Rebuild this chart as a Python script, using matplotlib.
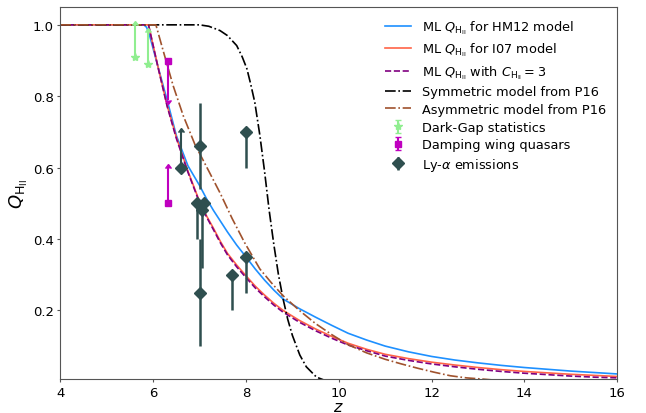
import matplotlib
matplotlib.use("Agg")
import matplotlib.pyplot as plt

# ML reionization histories
z_hm12 = [4.0, 5.80, 5.86, 5.92, 6.1, 6.3, 6.5, 6.75, 7.0, 7.15, 7.3, 7.45, 7.6, 7.8,
          8.0, 8.2, 8.4, 8.6, 8.8, 9.15, 9.5, 9.85, 10.2, 10.6, 11.0, 11.5, 12.0,
          12.5, 13.0, 13.5, 14.0, 14.5, 15.0, 15.5, 16.0]
q_hm12 = [1.0, 1.0, 0.993, 0.972, 0.885, 0.79, 0.69, 0.605, 0.55, 0.513, 0.48, 0.45,
          0.42, 0.383, 0.35, 0.316, 0.285, 0.257, 0.232, 0.205, 0.181, 0.158, 0.136,
          0.117, 0.10, 0.084, 0.071, 0.061, 0.053, 0.046, 0.040, 0.035, 0.030, 0.026, 0.022]

z_i07 = [4.0, 5.90, 6.10, 6.30, 6.50, 6.75, 7.0, 7.15, 7.3, 7.45, 7.6, 7.8, 8.0, 8.2,
         8.4, 8.6, 8.8, 9.15, 9.5, 9.85, 10.2, 10.6, 11.0, 11.5, 12.0, 12.5, 13.0,
         13.5, 14.0, 14.5, 15.0, 15.5, 16.0]
q_i07 = [1.0, 1.0, 0.885, 0.775, 0.685, 0.59, 0.505, 0.465, 0.43, 0.393, 0.36, 0.327,
         0.297, 0.268, 0.243, 0.22, 0.20, 0.172, 0.148, 0.127, 0.108, 0.091, 0.077,
         0.065, 0.055, 0.047, 0.040, 0.034, 0.029, 0.025, 0.021, 0.018, 0.015]

z_c3 = [4.0, 5.90, 6.10, 6.30, 6.50, 6.75, 7.0, 7.15, 7.3, 7.45, 7.6, 7.8, 8.0, 8.2,
        8.4, 8.6, 8.8, 9.15, 9.5, 9.85, 10.2, 10.6, 11.0, 11.5, 12.0, 12.5, 13.0,
        13.5, 14.0, 14.5, 15.0, 15.5, 16.0]
q_c3 = [1.0, 1.0, 0.884, 0.773, 0.682, 0.587, 0.502, 0.462, 0.426, 0.389, 0.356, 0.322,
        0.292, 0.263, 0.238, 0.215, 0.195, 0.167, 0.143, 0.122, 0.103, 0.087, 0.072,
        0.060, 0.050, 0.042, 0.035, 0.029, 0.024, 0.020, 0.016, 0.013, 0.011]

# Planck 2016 models
z_sym = [4.0, 7.0, 7.2, 7.44, 7.6, 7.8, 7.92, 8.02, 8.1, 8.19, 8.3, 8.4, 8.5, 8.6,
         8.7, 8.8, 8.9, 9.0, 9.16, 9.3, 9.52, 9.7]
q_sym = [1.0, 1.0, 0.996, 0.984, 0.97, 0.942, 0.91, 0.877, 0.835, 0.783, 0.69, 0.59,
         0.48, 0.385, 0.30, 0.232, 0.175, 0.13, 0.075, 0.042, 0.013, 0.004]

z_asym = [4.0, 6.06, 6.2, 6.43, 6.65, 6.9, 7.2, 7.45, 7.7, 7.97, 8.3, 8.55, 8.8, 9.15,
          9.5, 9.85, 10.2, 10.6, 11.0, 11.35, 11.7, 12.05, 12.4, 12.75, 13.1, 13.6]
q_asym = [1.0, 1.0, 0.935, 0.83, 0.745, 0.665, 0.59, 0.527, 0.458, 0.39, 0.316, 0.277,
          0.241, 0.20, 0.163, 0.132, 0.104, 0.081, 0.063, 0.05, 0.038, 0.027, 0.017,
          0.011, 0.0076, 0.002]

# observational constraints
z_gap = [5.6, 5.9]
q_gap = [0.91, 0.89]
e_gap = [0.09, 0.09]

z_dw_up = [6.33]      # upper limit
q_dw_up = [0.90]
z_dw_lo = [6.31]      # lower limit
q_dw_lo = [0.50]

z_lya_lo = [6.6]
q_lya_lo = [0.6]
z_lya = [7.0, 6.94, 7.1, 7.05, 7.0, 7.7, 8.0, 8.0]
q_lya = [0.66, 0.50, 0.50, 0.48, 0.25, 0.30, 0.35, 0.70]
lo_lya = [0.12, 0.10, 0.0, 0.16, 0.15, 0.10, 0.10, 0.10]
hi_lya = [0.12, 0.0, 0.0, 0.0, 0.15, 0.0, 0.0, 0.0]

fig = plt.figure(figsize=(6.46, 4.14), dpi=100)
ax = fig.add_axes([60.3/646, 1-380.3/414, 557/646, 372.3/414])

lw = 1.2
ax.plot(z_hm12, q_hm12, color='dodgerblue', lw=lw, label=r'ML $Q_{\rm H_{II}}$ for HM12 model')
ax.plot(z_i07, q_i07, color='tomato', lw=lw, label=r'ML $Q_{\rm H_{II}}$ for I07 model')
ax.plot(z_c3, q_c3, color='purple', lw=lw, ls='--', label=r'ML $Q_{\rm H_{II}}$ with $C_{\rm H_{II}}=3$')
ax.plot(z_sym, q_sym, color='black', lw=lw, ls='-.', label='Symmetric model from P16')
ax.plot(z_asym, q_asym, color='sienna', lw=lw, ls='-.', label='Asymmetric model from P16')

ax.errorbar(z_gap, q_gap, yerr=e_gap, lolims=True, fmt='*', color='lightgreen',
            ms=6, capsize=2, label='Dark-Gap statistics')
ax.errorbar(z_dw_up, q_dw_up, yerr=0.11, uplims=True, fmt='s', color='m',
            ms=5, capsize=2, label='Damping wing quasars')
ax.errorbar(z_dw_lo, q_dw_lo, yerr=0.10, lolims=True, fmt='s', color='m', ms=5, capsize=2)
ax.errorbar(z_lya_lo, q_lya_lo, yerr=0.10, lolims=True, fmt='D', color='darkslategray',
            ms=6.5, lw=1.5, capsize=2)
ax.errorbar(z_lya, q_lya, yerr=[lo_lya, hi_lya], fmt='D', color='darkslategray',
            ms=6.5, lw=1.8, label=r'Ly-$\alpha$ emissions')

ax.set_xlim(4, 16)
ax.set_ylim(0.007, 1.05)
ax.set_xticks([4, 6, 8, 10, 12, 14, 16])
ax.set_yticks([0.2, 0.4, 0.6, 0.8, 1.0])
ax.tick_params(labelsize=9.5, color='#555555', length=2.5, pad=2)
for s in ax.spines.values():
    s.set_color('#555555')
ax.set_xlabel(r'$z$', fontsize=11.5, labelpad=0)
ax.set_ylabel(r'$Q_{\rm H_{II}}$', fontsize=13, labelpad=2)
ax.legend(loc='upper right', frameon=False, fontsize=9.3, labelspacing=0.36)

fig.savefig('out.png', dpi=100)
